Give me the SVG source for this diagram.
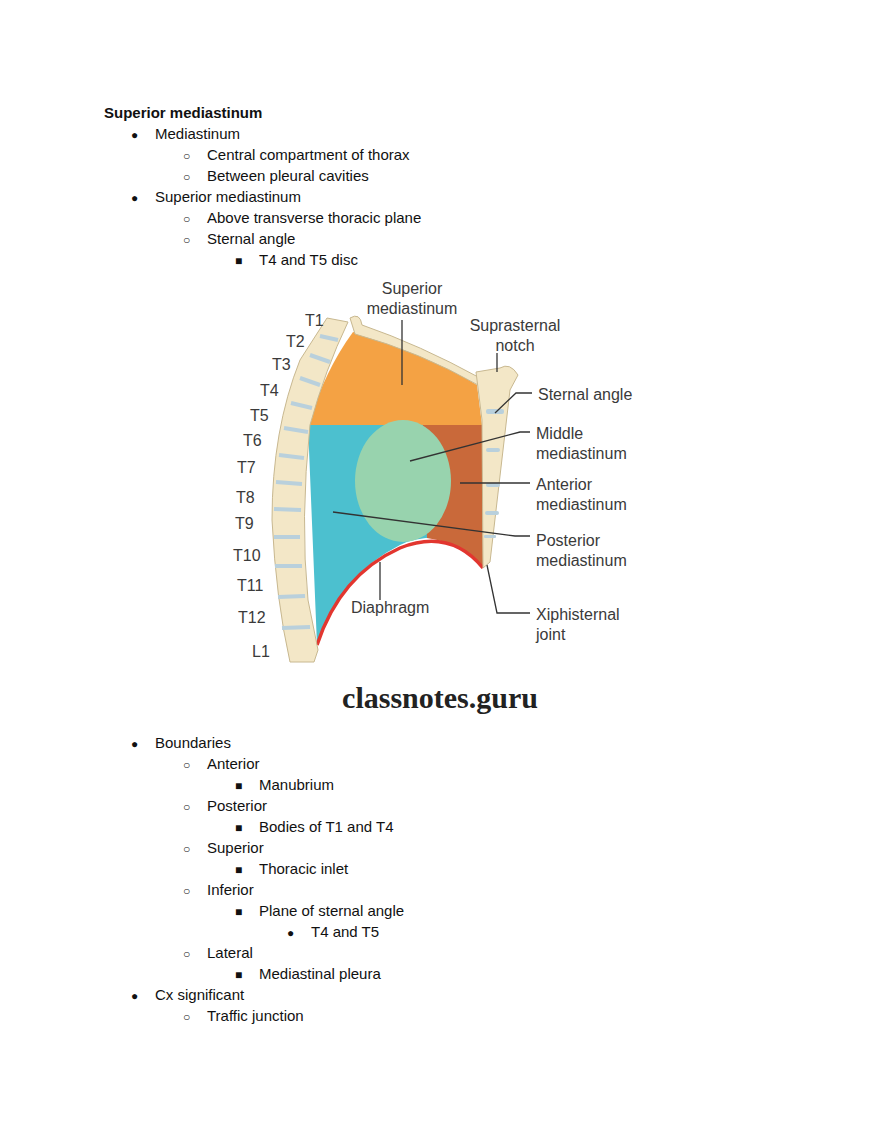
<svg xmlns="http://www.w3.org/2000/svg" width="880" height="1139" viewBox="0 0 880 1139">
<style>
.t{font-family:"Liberation Sans",Arial,sans-serif;font-size:15px;fill:#111}
.b{font-family:"Liberation Sans",Arial,sans-serif;font-size:12px;fill:#111}
.l{font-family:"Liberation Sans",Arial,sans-serif;font-size:16px;fill:#3a3a3a}
.ld{fill:none;stroke:#333;stroke-width:1.3}
.bone{fill:#f3e7c7;stroke:#c8b890;stroke-width:1}
.disc{fill:#b9d0dc}
</style>
<rect width="880" height="1139" fill="#fff"/>
<g id="text-top">
<text class="t" x="104" y="118" font-weight="bold">Superior mediastinum</text>
<text class="b" x="131" y="139">●</text><text class="t" x="155" y="139">Mediastinum</text>
<text class="b" x="183" y="160">○</text><text class="t" x="207" y="160">Central compartment of thorax</text>
<text class="b" x="183" y="181">○</text><text class="t" x="207" y="181">Between pleural cavities</text>
<text class="b" x="131" y="202">●</text><text class="t" x="155" y="202">Superior mediastinum</text>
<text class="b" x="183" y="223">○</text><text class="t" x="207" y="223">Above transverse thoracic plane</text>
<text class="b" x="183" y="244">○</text><text class="t" x="207" y="244">Sternal angle</text>
<text class="b" x="235" y="265">■</text><text class="t" x="259" y="265">T4 and T5 disc</text>
</g>
<g id="figure">
<path d="M317,645 L308,425 L482,425 L482,545 Q430,530 400,545 Q340,575 317,645 Z" fill="#4cc0cf"/>
<path d="M353,332 Q420,350 477,385 L482,425 L308,425 Q325,370 353,332 Z" fill="#f4a244"/>
<path d="M423,425 L482,425 L483,568 Q470,545 427,538 L423,425 Z" fill="#c9693a"/>
<ellipse cx="403" cy="481" rx="48" ry="61" fill="#98d3ae"/>
<path d="M317,645 Q340,575 400,548 Q450,528 483,568" fill="none" stroke="#e2362f" stroke-width="3.5"/>
<path class="bone" d="M350,318 Q360,312 362,325 Q420,345 480,378 L478,385 Q420,352 355,334 Z"/>
<path class="bone" d="M476,372 L500,368 Q510,362 518,375 L510,390 L490,562 L483,568 L482,420 Z"/>
<g class="disc"><rect x="486" y="409" width="18" height="5" rx="2"/><rect x="486" y="448" width="14" height="4" rx="2"/><rect x="486" y="483" width="14" height="4" rx="2"/><rect x="485" y="511" width="14" height="4" rx="2"/><rect x="484" y="535" width="12" height="3" rx="1"/></g>
<path class="bone" d="M327,318 L348,322 Q325,370 310,425 Q300,520 308,600 L318,650 L314,662 L290,662 Q276,600 272,520 Q272,430 300,360 Z"/>
<g stroke="#b9d0dc" stroke-width="4">
<line x1="320" y1="336" x2="338" y2="340"/><line x1="310" y1="355" x2="330" y2="362"/><line x1="300" y1="378" x2="320" y2="385"/><line x1="291" y1="403" x2="312" y2="408"/><line x1="284" y1="428" x2="308" y2="432"/><line x1="279" y1="455" x2="304" y2="458"/><line x1="276" y1="482" x2="302" y2="484"/><line x1="274" y1="509" x2="301" y2="510"/><line x1="274" y1="537" x2="300" y2="537"/><line x1="275" y1="566" x2="302" y2="566"/><line x1="278" y1="597" x2="305" y2="596"/><line x1="282" y1="628" x2="310" y2="627"/>
</g>
<g class="l">
<text x="305" y="326">T1</text><text x="286" y="347">T2</text><text x="272" y="370">T3</text><text x="260" y="396">T4</text><text x="250" y="421">T5</text><text x="243" y="446">T6</text><text x="237" y="473">T7</text><text x="236" y="503">T8</text><text x="235" y="529">T9</text><text x="233" y="561">T10</text><text x="237" y="591">T11</text><text x="238" y="623">T12</text><text x="252" y="657">L1</text>
<text x="412" y="294" text-anchor="middle">Superior</text><text x="412" y="314" text-anchor="middle">mediastinum</text>
<text x="515" y="331" text-anchor="middle">Suprasternal</text><text x="515" y="351" text-anchor="middle">notch</text>
<text x="538" y="400">Sternal angle</text>
<text x="536" y="439">Middle</text><text x="536" y="459">mediastinum</text>
<text x="536" y="490">Anterior</text><text x="536" y="510">mediastinum</text>
<text x="536" y="546">Posterior</text><text x="536" y="566">mediastinum</text>
<text x="351" y="613">Diaphragm</text>
<text x="536" y="620">Xiphisternal</text><text x="536" y="640">joint</text>
</g>
<g id="connectors">
<path class="ld" d="M402,320 V385"/>
<path class="ld" d="M497,353 V372"/>
<path class="ld" d="M532,393 H516 L495,413"/>
<path class="ld" d="M530,432 H520 L410,461"/>
<path class="ld" d="M460,483 H530"/>
<path class="ld" d="M333,512 L515,536 H530"/>
<path class="ld" d="M380,562 V600"/>
<path class="ld" d="M487,565 L497,613 H530"/>
</g>
<text x="440" y="708" text-anchor="middle" font-family="Liberation Serif,serif" font-weight="bold" font-size="30" fill="#222">classnotes.guru</text>
</g>
<g id="text-bottom">
<text class="b" x="131" y="748">●</text><text class="t" x="155" y="748">Boundaries</text>
<text class="b" x="183" y="769">○</text><text class="t" x="207" y="769">Anterior</text>
<text class="b" x="235" y="790">■</text><text class="t" x="259" y="790">Manubrium</text>
<text class="b" x="183" y="811">○</text><text class="t" x="207" y="811">Posterior</text>
<text class="b" x="235" y="832">■</text><text class="t" x="259" y="832">Bodies of T1 and T4</text>
<text class="b" x="183" y="853">○</text><text class="t" x="207" y="853">Superior</text>
<text class="b" x="235" y="874">■</text><text class="t" x="259" y="874">Thoracic inlet</text>
<text class="b" x="183" y="895">○</text><text class="t" x="207" y="895">Inferior</text>
<text class="b" x="235" y="916">■</text><text class="t" x="259" y="916">Plane of sternal angle</text>
<text class="b" x="287" y="937">●</text><text class="t" x="311" y="937">T4 and T5</text>
<text class="b" x="183" y="958">○</text><text class="t" x="207" y="958">Lateral</text>
<text class="b" x="235" y="979">■</text><text class="t" x="259" y="979">Mediastinal pleura</text>
<text class="b" x="131" y="1000">●</text><text class="t" x="155" y="1000">Cx significant</text>
<text class="b" x="183" y="1021">○</text><text class="t" x="207" y="1021">Traffic junction</text>
</g>
</svg>
